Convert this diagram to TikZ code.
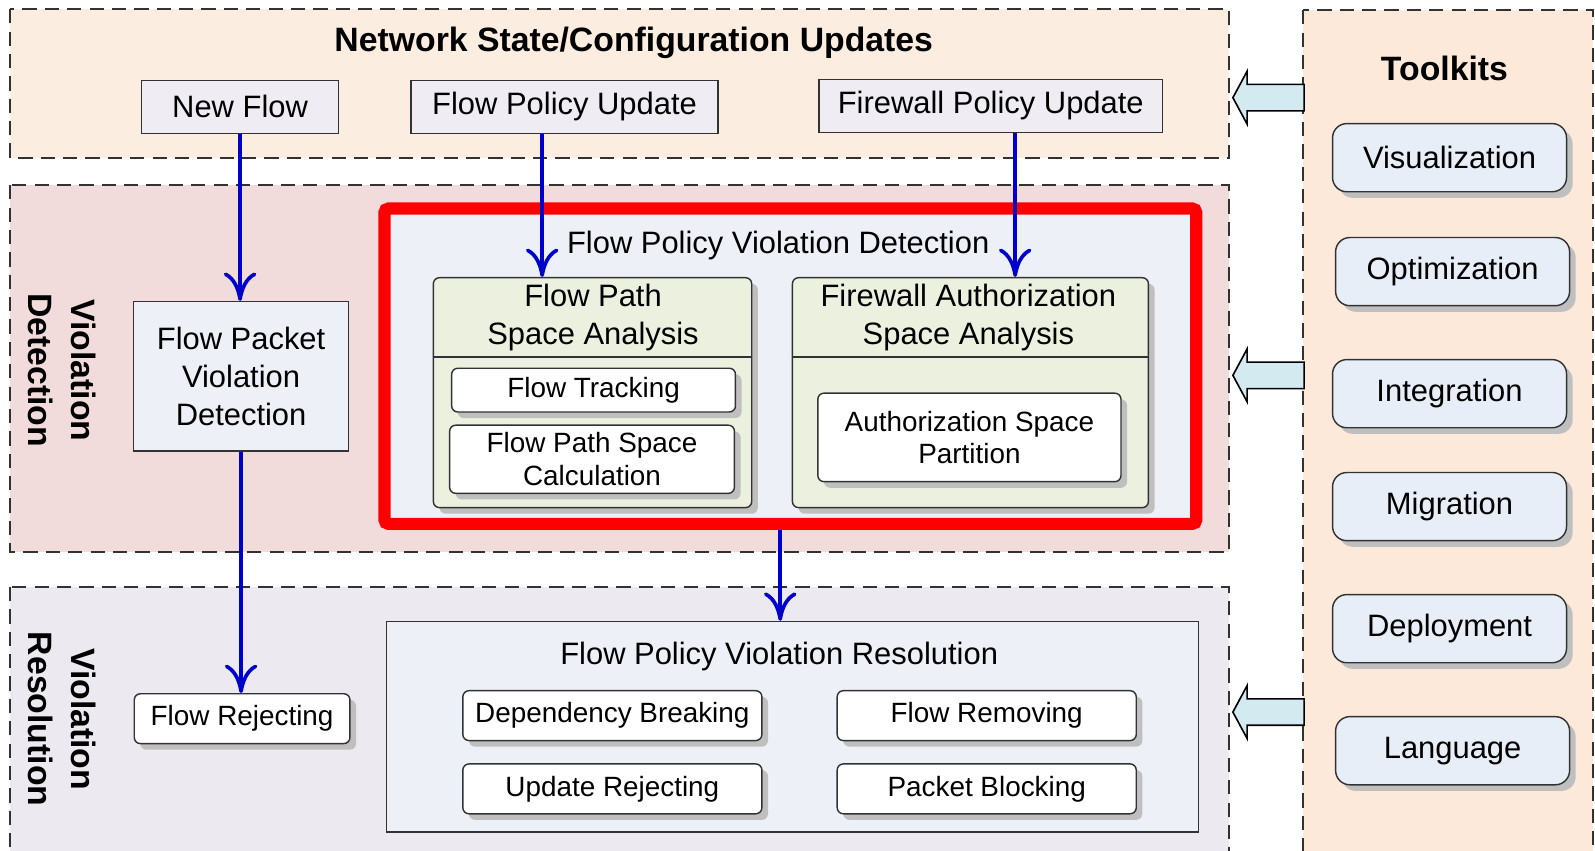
\documentclass[tikz,border=0pt]{standalone}
\usepackage{fontspec}
\setmainfont{Liberation Sans}
\usepackage{xcolor}
\usepackage{tikz}
\usetikzlibrary{arrows.meta,shadows}
\definecolor{updfill}{RGB}{252,237,225}
\definecolor{detfill}{RGB}{242,220,219}
\definecolor{resfill}{RGB}{236,234,240}
\definecolor{tkfill}{RGB}{252,233,218}
\definecolor{evfill}{RGB}{239,237,243}
\definecolor{panefill}{RGB}{237,241,247}
\definecolor{anafill}{RGB}{235,241,222}
\definecolor{toolfill}{RGB}{232,238,247}
\definecolor{bigarrfill}{RGB}{210,234,240}
\definecolor{boxedge}{RGB}{50,50,50}
\definecolor{flowblue}{RGB}{0,0,204}
\newcommand\bodytxt{\fontsize{15.2}{18.5}\selectfont}
\newcommand\itemtxt{\fontsize{13.7}{16}\selectfont}
\newcommand\titletxt{\fontsize{16.6}{21.5}\selectfont\bfseries}
\newcommand\tkarrow[1]{%
  \filldraw[bigarr] (1212,#1) -- (1226,#1-26) -- (1226,#1-13) -- (1282,#1-13)
    -- (1282,#1+13) -- (1226,#1+13) -- (1226,#1+26) -- cycle;}

\tikzset{
  region/.style={draw=boxedge, line width=1pt, dash pattern=on 7pt off 4pt},
  boxshadow/.style={drop shadow={shadow xshift=3pt, shadow yshift=-3pt, fill=black!25, opacity=1}},
  event/.style={draw=boxedge, line width=0.7pt, fill=evfill, minimum height=26pt, inner sep=2pt, font=\bodytxt},
  pane/.style={draw=boxedge, line width=0.7pt, fill=panefill, inner sep=2pt},
  analysis/.style={draw=boxedge, line width=0.7pt, fill=anafill, rounded corners=3pt, boxshadow},
  task/.style={draw=boxedge, line width=0.7pt, fill=white, rounded corners=3pt, inner sep=2pt, font=\itemtxt, align=center, boxshadow},
  tool/.style={draw=boxedge, line width=0.7pt, fill=toolfill, rounded corners=7pt, minimum width=115pt, minimum height=33.5pt, font=\bodytxt, boxshadow},
  grouptitle/.style={font=\titletxt},
  sidelabel/.style={font=\titletxt, rotate=-90, align=center},
  flowarr/.style={->, draw=flowblue, line width=1.8pt},
  bigarr/.style={draw=black, line width=0.8pt, fill=bigarrfill}
}

\begin{document}
\begin{tikzpicture}[x=0.5pt, y=-0.5pt, >={Computer Modern Rightarrow[length=14pt,width=16pt]}]
    \useasboundingbox (0,0) rectangle (1568,836);
    \clip (0,0) rectangle (1568,836);

    \coordinate (fpx) at (533,0);
    \coordinate (fwx) at (998,0);
    \coordinate (resx) at (767,0);
    \coordinate (hdiv) at (0,351);

    % regions
    \filldraw[region, fill=updfill] (10,9) rectangle (1208,155);
    \filldraw[region, fill=detfill] (10,182) rectangle (1208,543);
    \filldraw[region, fill=resfill] (10,577) rectangle (1208,850);
    \filldraw[region, fill=tkfill] (1281,10) rectangle (1566,850);

    % updates
    \node[grouptitle] (updtitle) at (623,42) {Network State/Configuration Updates};
    \node[event, minimum width=97pt] (newflow) at (236,105) {New Flow};
    \node[event, minimum width=151pt] (fpupdate) at (555,105) {Flow Policy Update};
    \node[event, minimum width=169pt] (fwupdate) at (974,104) {Firewall Policy Update};

    % detection
    \node[sidelabel] (detlabel) at (61,364) {Violation\\Detection};
    \node[pane, minimum width=105.5pt, minimum height=73.5pt, font=\bodytxt, align=center] (pktdet) at (237,370) {Flow Packet\\Violation\\Detection};

    \node[draw=red, line width=6pt, fill=panefill, rounded corners=2pt, minimum width=399pt, minimum height=155pt, inner sep=0pt] (fpvd) at (777,360) {};
    \node[font=\bodytxt] (fpvdtitle) at (765,241) {Flow Policy Violation Detection};

    \node[analysis, minimum width=156.5pt, minimum height=113pt] (pathana) at (582.5,386) {};
    \node[font=\bodytxt, align=center] (pathhead) at (583,312) {Flow Path\\Space Analysis};
    \draw[boxedge, line width=0.7pt] (pathana.west |- hdiv) -- (pathana.east |- hdiv);
    \node[task, minimum width=139.5pt, minimum height=21.5pt] (tracking) at (583.5,383.5) {Flow Tracking};
    \node[task, minimum width=140pt, minimum height=33.5pt] (pathcalc) at (582,451.5) {Flow Path Space\\Calculation};

    \node[analysis, minimum width=175pt, minimum height=113pt] (authana) at (954,386) {};
    \node[font=\bodytxt, align=center] (authhead) at (952,312) {Firewall Authorization\\Space Analysis};
    \draw[boxedge, line width=0.7pt] (authana.west |- hdiv) -- (authana.east |- hdiv);
    \node[task, minimum width=149pt, minimum height=43.5pt] (authpart) at (953,430) {Authorization Space\\Partition};

    % resolution
    \node[sidelabel] (reslabel) at (61,707) {Violation\\Resolution};
    \node[task, minimum width=106pt, minimum height=24.5pt] (flowrej) at (238,706.5) {Flow Rejecting};
    \node[pane, minimum width=399pt, minimum height=103.5pt] (fpvr) at (779,714.5) {};
    \node[font=\bodytxt] (fpvrtitle) at (766,645) {Flow Policy Violation Resolution};
    \node[task, minimum width=147pt, minimum height=24.5pt] (depbreak) at (602,703.5) {Dependency Breaking};
    \node[task, minimum width=147pt, minimum height=24.5pt] (flowrem) at (970,703.5) {Flow Removing};
    \node[task, minimum width=147pt, minimum height=24.5pt] (updrej) at (602,775.5) {Update Rejecting};
    \node[task, minimum width=147pt, minimum height=24.5pt] (pktblock) at (970,775.5) {Packet Blocking};

    % toolkits
    \node[grouptitle] (tktitle) at (1420,67) {Toolkits};
    \node[tool] (visual) at (1425,155) {Visualization};
    \node[tool] (optim) at (1428,267) {Optimization};
    \node[tool] (integ) at (1425,387) {Integration};
    \node[tool] (migr) at (1425,498) {Migration};
    \node[tool] (deploy) at (1425,618) {Deployment};
    \node[tool] (lang) at (1428,738) {Language};

    \tkarrow{96}
    \tkarrow{369}
    \tkarrow{700}

    % flows
    \draw[flowarr] (newflow.south) -- (newflow.south |- pktdet.north);
    \draw[flowarr] (fpupdate.south -| fpx) -- (pathana.north -| fpx);
    \draw[flowarr] (fwupdate.south -| fwx) -- (authana.north -| fwx);
    \draw[flowarr] (pktdet.south) -- (pktdet.south |- flowrej.north);
    \draw[flowarr] (fpvd.south -| resx) -- (fpvr.north -| resx);
\end{tikzpicture}
\end{document}
